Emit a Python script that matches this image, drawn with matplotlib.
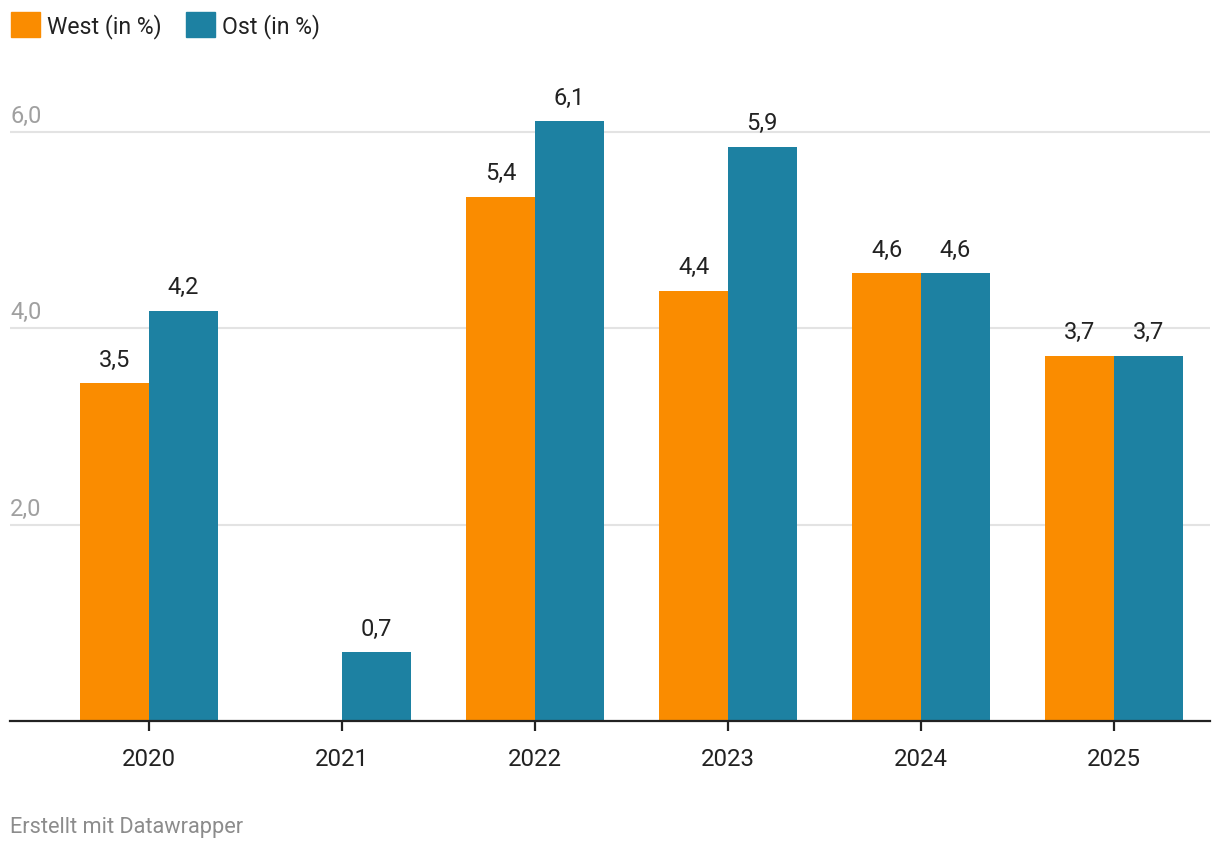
import numpy as np
import matplotlib.pyplot as plt
from matplotlib.patches import Patch

plt.rcParams['font.family'] = ['Roboto', 'DejaVu Sans']

years = ['2020', '2021', '2022', '2023', '2024', '2025']
# bar heights, labels as printed
west = [3.44, np.nan, 5.34, 4.38, 4.56, 3.72]
ost = [4.18, 0.70, 6.11, 5.85, 4.56, 3.72]
west_labels = ['3,5', '', '5,4', '4,4', '4,6', '3,7']
ost_labels = ['4,2', '0,7', '6,1', '5,9', '4,6', '3,7']
yticks = [2, 4, 6]
ytick_labels = ['2,0', '4,0', '6,0']

c_west = '#FA8C00'
c_ost = '#1D81A2'

fig = plt.figure(figsize=(12.2, 8.54), dpi=100)
ax = fig.add_axes([10 / 1220, 132 / 854, 1200 / 1220, (722 - 74) / 854])

x = np.arange(len(years))
w = 0.355
b1 = ax.bar(x - w / 2, west, w, color=c_west, zorder=2)
b2 = ax.bar(x + w / 2, ost, w, color=c_ost, zorder=2)

for bars, labs in ((b1, west_labels), (b2, ost_labels)):
    for rect, lab in zip(bars, labs):
        h = rect.get_height()
        if not lab or np.isnan(h):
            continue
        ax.annotate(lab, (rect.get_x() + rect.get_width() / 2, h),
                    xytext=(0, 9), textcoords='offset points',
                    ha='center', va='bottom', fontsize=17, color='#222222')

ax.set_xlim(-0.7202, 5.4974)
ax.set_ylim(0, 6.6)

# gridlines + labels sitting above them
for t, lab in zip(yticks, ytick_labels):
    ax.axhline(t, color='#e3e3e3', lw=1.5, zorder=1)
    ax.annotate(lab, (0, t), xycoords=('axes fraction', 'data'),
                xytext=(0, 3.5), textcoords='offset points',
                ha='left', va='bottom', fontsize=17, color='#a0a0a0')

ax.set_yticks([])
ax.set_xticks(x)
ax.set_xticklabels(years, fontsize=17.3, color='#222222')
ax.tick_params(axis='x', length=7, width=1.6, color='#222222', pad=12)
for s in ('top', 'right', 'left'):
    ax.spines[s].set_visible(False)
ax.spines['bottom'].set_linewidth(1.6)
ax.spines['bottom'].set_color('#222222')
ax.spines['bottom'].set_zorder(3)

handles = [Patch(color=c_west, label='West (in %)'),
           Patch(color=c_ost, label='Ost (in %)')]
fig.legend(handles=handles, loc='upper left', bbox_to_anchor=(2 / 1220, 1 - 4 / 854),
           ncol=2, frameon=False, fontsize=16.6, handlelength=1.25, handleheight=1.25,
           handletextpad=0.3, columnspacing=1.05, borderaxespad=0, labelcolor='#222222')

fig.text(10 / 1220, 1 - 828 / 854, 'Erstellt mit Datawrapper', fontsize=15.7,
         color='#8c8c8c', ha='left', va='center')

fig.savefig('out.png', dpi=100, facecolor='white')
